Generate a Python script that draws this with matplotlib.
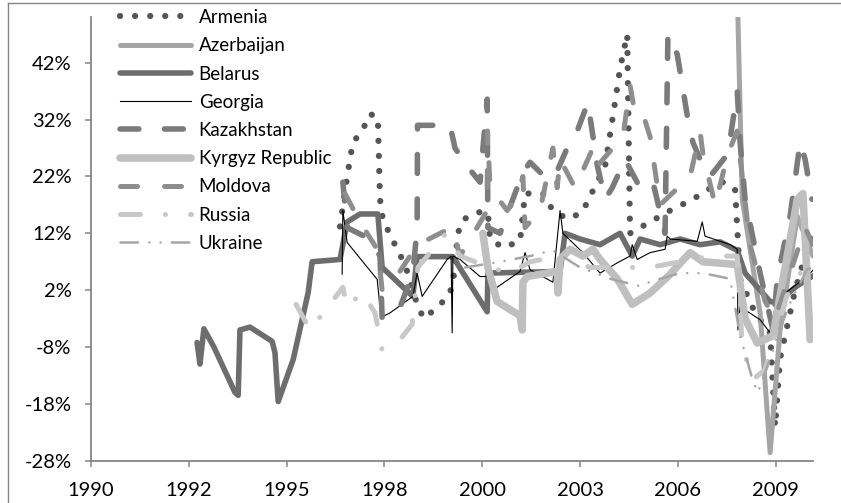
import matplotlib
matplotlib.use("Agg")
import matplotlib.pyplot as plt
from matplotlib.lines import Line2D
from matplotlib.ticker import FuncFormatter

# ---------- Data (decimal year, % change) ----------
armenia_x = [1996.97, 1997.17, 1997.33, 1997.59, 1997.81, 1998.03, 1998.09, 1998.17, 1998.37, 1998.57,
             1998.79, 1999.15, 1999.32, 1999.69, 2000.0, 2000.13, 2000.27, 2000.41, 2000.83, 2001.11,
             2001.17, 2001.53, 2002.01, 2002.15, 2002.65, 2002.93, 2003.35, 2003.75, 2004.39, 2004.61,
             2004.81, 2005.01, 2005.09, 2005.65, 2006.21, 2006.85, 2007.27, 2007.69, 2008.03, 2008.17,
             2008.59, 2009.01, 2009.15, 2009.29, 2009.71, 2009.99, 2010.21]
armenia_y = [13.2, 22, 28, 30, 33, 32.4, 18, 14.4, 11.8, 9.2,
             6.5, -0.9, -3, -1, 0.9, 3, 12, 14.4, 15.7, 15.7,
             11, 9.5, 10.6, 19, 19, 16, 14.5, 15.7, 23.8, 32.6,
             41, 47, 12, 14, 16, 18, 19.7, 21, 19.7, 3.9,
             -2, -5.5, -22, -10, 2, 8, 12]

azerbaijan_x = [2007.05, 2008.09, 2008.23, 2008.73, 2009.01, 2009.29, 2009.77, 2010.21]
azerbaijan_y = [65, 55, 18, -2, -26.6, -5, 15, 8]

belarus_x = [1992.97, 1993.05, 1993.16, 1993.44, 1994.03, 1994.12, 1994.17, 1994.45, 1995.07, 1995.15,
             1995.24, 1995.66, 1996.08, 1996.19, 1996.97, 1997.17, 1997.53, 1998.03, 1998.15, 1999.01,
             1999.13, 2000.13, 2001.09, 2001.11, 2003.13, 2003.27, 2003.69, 2004.25, 2004.81, 2005.15,
             2005.37, 2005.93, 2006.49, 2007.05, 2007.61, 2008.09, 2008.31, 2008.73, 2009.01, 2009.21,
             2009.71, 2010.04, 2010.21]
belarus_y = [-7.2, -11, -4.8, -8, -16, -16.5, -5, -4.5, -7, -9,
             -17.6, -10.2, 1.6, 7, 7.4, 14, 15.4, 15.4, 6, 0.9,
             7.9, 7.9, -1.8, 5, 5.3, 12, 11, 10, 12, 8,
             11, 10, 11, 10, 10.5, 9, 5, 2, 0, -0.2,
             2.5, 3.9, 4.5]

georgia_x = [1997.03, 1997.05, 1997.17, 1998.01, 1998.09, 1998.15, 1998.37, 1999.01, 1999.13, 1999.27,
             1999.97, 2000.08, 2000.11, 2000.13, 2000.33, 2000.89, 2001.09, 2001.25, 2002.01, 2002.15,
             2002.29, 2002.93, 2003.13, 2003.21, 2003.77, 2004.25, 2004.73, 2005.09, 2005.15, 2005.29,
             2005.65, 2006.07, 2006.13, 2006.21, 2006.97, 2007.11, 2007.19, 2007.89, 2008.09, 2008.11,
             2008.17, 2008.73, 2009.01, 2009.15, 2009.21, 2009.37, 2010.04, 2010.21]
georgia_y = [4.8, 16, 10.4, 3.9, -0.9, -2.7, -2, 0.9, 5, 0.9,
             7.4, 8, -5.5, 8, 7.4, 4.4, 4.4, 2, 5.3, 8.6,
             5.6, 3.4, 16, 12, 8.6, 5, 6.8, 8, 10, 7.4,
             8.6, 9.2, 11.5, 11, 10.6, 14, 11.5, 10, 9.2, -5,
             -0.9, -3.2, -5.5, -1, 0.9, 1.2, 4.4, 5.5]

kazakhstan_x = [1997.05, 1997.17, 1997.81, 1998.09, 1998.15, 1998.65, 1999.01, 1999.13, 1999.14, 1999.41,
                2000.05, 2000.19, 2000.53, 2000.89, 2001.09, 2001.11, 2001.45, 2002.09, 2002.29, 2002.77,
                2003.05, 2003.33, 2003.61, 2003.91, 2004.17, 2004.39, 2004.59, 2004.95, 2005.37, 2005.73,
                2006.07, 2006.15, 2006.41, 2006.71, 2006.85, 2007.05, 2007.33, 2007.83, 2008.09, 2008.17,
                2008.31, 2008.73, 2009.09, 2009.21, 2009.57, 2009.85, 2009.99, 2010.18]
kazakhstan_y = [21, 13, 11, 8, -3, -1, 5, 13, 31, 31,
                31, 27, 23.8, 21, 35.6, 13, 12, 22.7, 24.5, 21.5,
                23, 27, 30, 35, 24, 18, 20, 25, 20, 21,
                12, 47, 43.5, 32, 28, 25, 22, 26, 37, 28,
                18, 5, -5, 4, 15, 28, 25, 18]

kyrgyz_x = [2000.97, 2001.11, 2001.37, 2002.01, 2002.07, 2002.09, 2002.21, 2003.05, 2003.07, 2003.13,
            2003.41, 2003.77, 2004.05, 2004.25, 2004.73, 2005.15, 2005.65, 2006.15, 2006.77, 2007.13,
            2008.09, 2008.31, 2008.65, 2009.09, 2009.77, 2009.93, 2010.13]
kyrgyz_y = [12, 6, 0, -2.5, -5, 3.4, 4.4, 5.3, 1.5, 7.4,
            9.2, 8, 9.2, 7.4, 4, -0.5, 1.5, 4.4, 8.6, 7,
            6.5, -3, -7.3, -6, 18, 19, -6.7]

moldova_x = [1997.11, 1997.53, 1998.03, 1998.15, 1998.51, 1998.93, 1999.15, 1999.77, 2000.11, 2000.33,
             2001.09, 2001.10, 2001.17, 2001.65, 2001.93, 2002.09, 2002.15, 2002.57, 2002.93, 2003.05,
             2003.13, 2003.55, 2004.05, 2004.17, 2004.47, 2004.89, 2005.09, 2005.23, 2005.45, 2005.65,
             2005.93, 2006.43, 2006.77, 2007.05, 2007.13, 2007.47, 2007.83, 2008.09, 2008.23, 2008.45,
             2008.87, 2009.15, 2009.57, 2009.99, 2010.21]
moldova_y = [19, 14, 9, 2, 4, 8, 10, 12, 13, 8,
             16, 30, 20, 16, 18.5, 22, 13, 16, 27, 20,
             25, 20, 27, 23.8, 26, 29, 38, 33, 33, 29,
             17, 20, 22, 29.8, 26, 17, 26, 30, 22, 10,
             0, -3, 5, 13, 10]

russia_x = [1995.74, 1996.13, 1996.50, 1997.05, 1997.17, 1997.59, 1997.95, 1998.15, 1998.65, 1998.99,
            1999.15, 1999.94, 2000.33, 2001.17, 2001.73, 2002.29, 2003.13, 2003.97, 2004.81, 2005.65,
            2006.49, 2007.33, 2008.09, 2008.23, 2008.53, 2008.87, 2009.48, 2009.85, 2010.21]
russia_y = [-0.5, -5, -2, 2.5, -1, 1.6, -2, -8.5, -6.7, -4,
            6, 12, 8, 6, 5, 7, 8, 6, 6, 6,
            7, 8, 8, -8, -13.7, -12, 1, 5, 4]

ukraine_x = [2000.47, 2001.45, 2002.29, 2002.93, 2003.69, 2004.53, 2005.37, 2005.71, 2006.49, 2007.13,
             2007.89, 2008.17, 2008.53, 2008.67, 2009.01, 2009.51, 2009.71, 2010.04, 2010.21]
ukraine_y = [6, 7, 8, 9, 6, 4, 2.7, 3.6, 5, 5,
             4, -6, -14, -16, -10, -1, 1.5, 5.6, 6]

tick_labels = ["1990", "1992", "1995", "1998", "2000", "2003", "2006", "2009"]

plt.rcParams["font.family"] = ["Lato", "DejaVu Sans"]

fig = plt.figure(figsize=(8.41, 5.03), dpi=100)
ax = fig.add_axes([91 / 841, 42.3 / 503, 722 / 841, 443.4 / 503])

# ---------- Series ----------
ax.plot(armenia_x, armenia_y, color="#555555", lw=4.5, linestyle=(0, (0.01, 2.4)),
        dash_capstyle="round", label="Armenia")
ax.plot(azerbaijan_x, azerbaijan_y, color="#a5a5a5", lw=3.6, solid_capstyle="round",
        solid_joinstyle="round", label="Azerbaijan")
ax.plot(belarus_x, belarus_y, color="#6d6d6d", lw=4.0, solid_capstyle="round",
        solid_joinstyle="round", label="Belarus")
ax.plot(georgia_x, georgia_y, color="black", lw=0.8, label="Georgia")
ax.plot(kazakhstan_x, kazakhstan_y, color="#7b7b7b", lw=4.0, linestyle=(0, (3.4, 4.6)),
        dash_capstyle="round", label="Kazakhstan")
ax.plot(kyrgyz_x, kyrgyz_y, color="#bfbfbf", lw=5.4, solid_capstyle="round",
        solid_joinstyle="round", label="Kyrgyz Republic")
ax.plot(moldova_x, moldova_y, color="#8e8e8e", lw=3.6, linestyle=(0, (3.4, 5.4)),
        dash_capstyle="round", label="Moldova")
ax.plot(russia_x, russia_y, color="#c8c8c8", lw=3.6, linestyle=(0, (4, 5, 0.01, 5)),
        dash_capstyle="round", label="Russia")
ax.plot(ukraine_x, ukraine_y, color="#a6a6a6", lw=1.8, linestyle=(0, (7, 4.5, 0.01, 4.5, 0.01, 4.5)),
        dash_capstyle="round", label="Ukraine")

# ---------- Axes ----------
ax.set_xlim(1990, 1990 + 7382 / 365.25)
ax.set_ylim(-28, 50)
ax.set_xticks([1990 + 1000 * k / 365.25 for k in range(len(tick_labels))])
ax.set_xticklabels(tick_labels)
ax.set_yticks(range(-28, 43, 10))
ax.yaxis.set_major_formatter(FuncFormatter(lambda v, p: f"{v:.0f}%"))

for side in ("top", "right"):
    ax.spines[side].set_visible(False)
for side in ("left", "bottom"):
    ax.spines[side].set_color("#868686")
    ax.spines[side].set_linewidth(1.3)
ax.tick_params(axis="both", direction="out", length=4.5, width=1.1, color="#868686",
               labelsize=14.5, labelcolor="black")
ax.tick_params(axis="x", pad=11)
ax.tick_params(axis="y", pad=9.5)

leg = ax.legend(loc="upper left", bbox_to_anchor=(120 / 841, 1 - 9 / 503),
                bbox_transform=fig.transFigure, frameon=False, fontsize=13.5,
                handlelength=3.8, handletextpad=0.4, labelspacing=0.6,
                borderpad=0, borderaxespad=0)

# ---------- Chart border (left and top visible) ----------
fig.add_artist(Line2D([8 / 841, 8 / 841], [0, 1 - 3 / 503], color="#868686", lw=1.0))
fig.add_artist(Line2D([8 / 841, 1], [1 - 3 / 503, 1 - 3 / 503], color="#868686", lw=1.0))

fig.savefig("out.png", dpi=100)
